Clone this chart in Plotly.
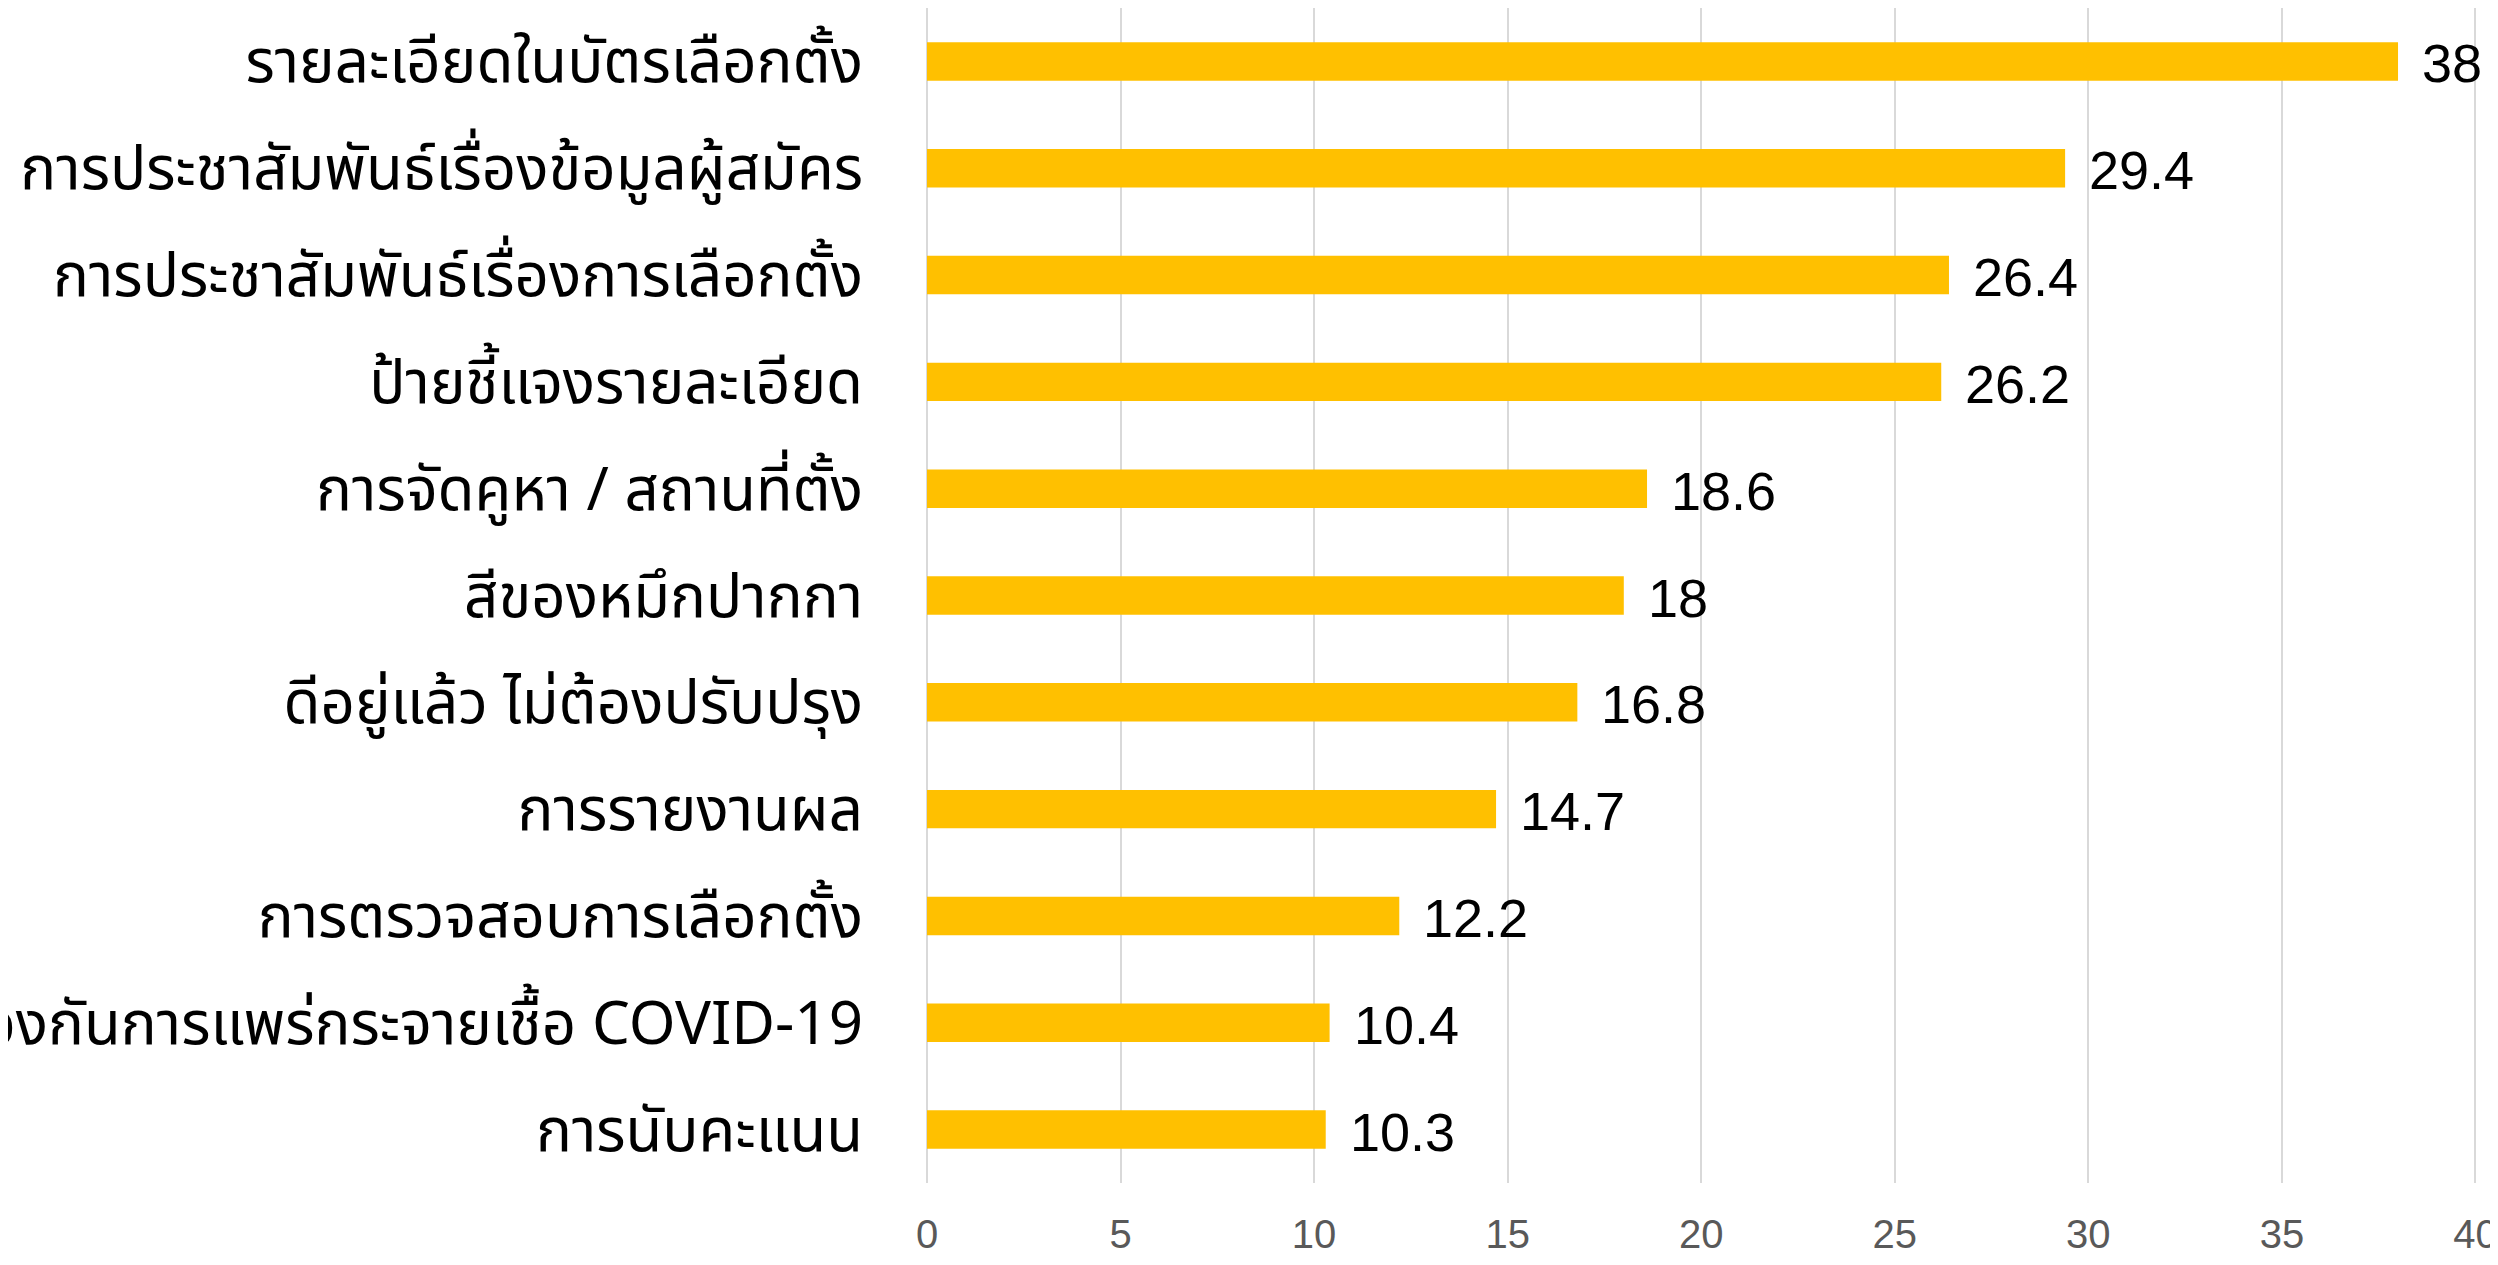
import plotly.graph_objects as go

categories = [
    "รายละเอียดในบัตรเลือกตั้ง",
    "การประชาสัมพันธ์เรื่องข้อมูลผู้สมัคร",
    "การประชาสัมพันธ์เรื่องการเลือกตั้ง",
    "ป้ายชี้แจงรายละเอียด",
    "การจัดคูหา / สถานที่ตั้ง",
    "สีของหมึกปากกา",
    "ดีอยู่แล้ว ไม่ต้องปรับปรุง",
    "การรายงานผล",
    "การตรวจสอบการเลือกตั้ง",
    "การป้องกันการแพร่กระจายเชื้อ COVID-19",
    "การนับคะแนน",
]
values = [38, 29.4, 26.4, 26.2, 18.6, 18, 16.8, 14.7, 12.2, 10.4, 10.3]
value_labels = ["38", "29.4", "26.4", "26.2", "18.6", "18", "16.8", "14.7", "12.2", "10.4", "10.3"]
x_ticks = [0, 5, 10, 15, 20, 25, 30, 35, 40]

fig = go.Figure()
fig.add_trace(go.Bar(
    y=categories, x=values, orientation="h",
    marker=dict(color="#FFC000", line=dict(width=0)),
    width=0.36,
    hoverinfo="skip",
))

for c, v, t in zip(categories, values, value_labels):
    fig.add_annotation(
        x=v, y=c, text=t, showarrow=False, xanchor="left", yanchor="middle",
        xshift=22, yshift=-2,
        font=dict(family="Liberation Sans, Arial, sans-serif", size=54, color="#000000"),
    )

# page body has an 8px margin; offsets compensate for it
fig.update_layout(
    width=2498, height=1265,
    margin=dict(l=919, r=29, t=0, b=90, autoexpand=False),
    plot_bgcolor="white", paper_bgcolor="white",
    showlegend=False,
    xaxis=dict(
        range=[0, 40.04], tickvals=x_ticks, ticktext=[str(v) for v in x_ticks],
        showgrid=True, gridcolor="#D9D9D9", gridwidth=2,
        zeroline=True, zerolinecolor="#D9D9D9", zerolinewidth=2,
        showline=False, ticks="outside", ticklen=16, tickcolor="rgba(0,0,0,0)",
        tickfont=dict(family="Liberation Sans, Arial, sans-serif", size=40, color="#595959"),
        ticklabeloverflow="allow",
        automargin=False, fixedrange=True,
    ),
    yaxis=dict(
        categoryorder="array", categoryarray=categories, autorange="reversed",
        showgrid=False, zeroline=False, showline=False,
        ticks="outside", ticklen=51, tickcolor="rgba(0,0,0,0)",
        tickfont=dict(family="Noto Sans Thai, Noto Sans, sans-serif", size=60, color="#000000"),
        ticklabeloverflow="allow",
        automargin=False, fixedrange=True,
    ),
)

fig.write_html("out.html")
